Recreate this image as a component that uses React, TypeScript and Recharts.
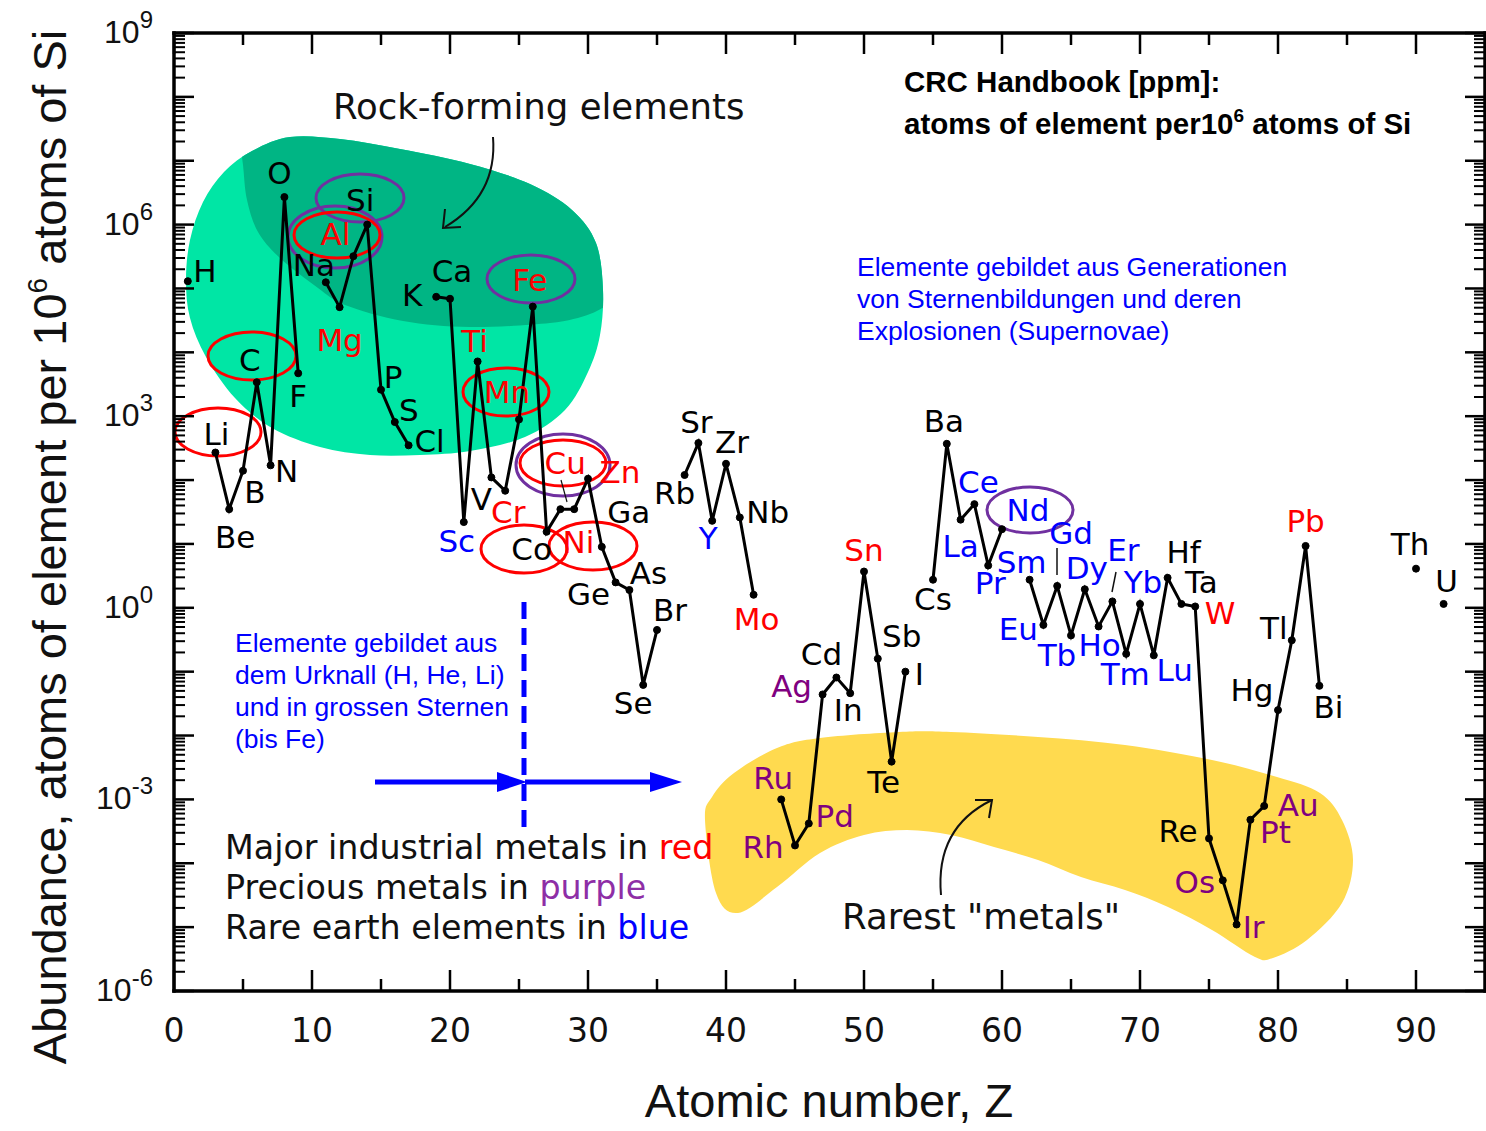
import React from 'react';
import { LineChart, Line, XAxis, YAxis, LabelList } from 'recharts';

// element symbols, Z = index + 1
const symbols = [
  'H', 'He', 'Li', 'Be', 'B', 'C', 'N', 'O', 'F', 'Ne',
  'Na', 'Mg', 'Al', 'Si', 'P', 'S', 'Cl', 'Ar', 'K', 'Ca',
  'Sc', 'Ti', 'V', 'Cr', 'Mn', 'Fe', 'Co', 'Ni', 'Cu', 'Zn',
  'Ga', 'Ge', 'As', 'Se', 'Br', 'Kr', 'Rb', 'Sr', 'Y', 'Zr',
  'Nb', 'Mo', 'Tc', 'Ru', 'Rh', 'Pd', 'Ag', 'Cd', 'In', 'Sn',
  'Sb', 'Te', 'I', 'Xe', 'Cs', 'Ba', 'La', 'Ce', 'Pr', 'Nd',
  'Pm', 'Sm', 'Eu', 'Gd', 'Tb', 'Dy', 'Ho', 'Er', 'Tm', 'Yb',
  'Lu', 'Hf', 'Ta', 'W', 'Re', 'Os', 'Ir', 'Pt', 'Au', 'Hg',
  'Tl', 'Pb', 'Bi', 'Po', 'At', 'Rn', 'Fr', 'Ra', 'Ac', 'Th',
  'Pa', 'U',
];

// atoms per 10^6 atoms of Si (null = not plotted)
const abundance: (number | null)[] = [
  1.3e5, null, 270, 35, 140, 3400, 170, 2.7e6, 4700, null,
  1.25e5, 5.1e4, 3.2e5, 1e6, 2600, 810, 350, null, 7.4e4, 6.9e4,
  22, 7200, 110, 68, 890, 5.2e4, 15.5, 35, 35, 105,
  9, 2.5, 1.9, 0.062, 0.45, null, 120, 380, 23, 180,
  26, 1.6, null, 1e-3, 1.9e-4, 4.2e-4, 0.044, 0.081, 0.046, 3.7,
  0.16, 0.0039, 0.1, null, 2.75, 370, 24, 42, 4.6, 17,
  null, 2.75, 0.54, 2.2, 0.37, 1.95, 0.51, 1.26, 0.19, 1.15,
  0.18, 2.95, 1.15, 1.05, 2.45e-4, 5.4e-5, 1.1e-5, 4.8e-4, 7.9e-4, 0.025,
  0.31, 9.3, 0.06, null, null, null, null, null, null, 4.1,
  null, 1.15,
];

const industrialMetals = ['Mg', 'Al', 'Ti', 'Cr', 'Mn', 'Fe', 'Ni', 'Cu', 'Zn', 'Mo', 'Sn', 'W', 'Pb'];
const preciousMetals = ['Ru', 'Rh', 'Pd', 'Ag', 'Os', 'Ir', 'Pt', 'Au'];
const rareEarths = ['Sc', 'Y', 'La', 'Ce', 'Pr', 'Nd', 'Sm', 'Eu', 'Gd', 'Tb', 'Dy', 'Ho', 'Er', 'Tm', 'Yb', 'Lu'];

const xTicks = [0, 5, 10, 15, 20, 25, 30, 35, 40, 45, 50, 55, 60, 65, 70, 75, 80, 85, 90];
const yTicks: number[] = [];
for (let e = -6; e < 9; e++) for (let m = 1; m <= 9; m++) yTicks.push(m * Math.pow(10, e));
yTicks.push(1e9);

const rows = symbols.map((sym, i) => ({ z: i + 1, sym, v: abundance[i] }));

// label placement relative to its point [dx, dy]
const labelOffset: Record<string, [number, number]> = {
  H: [17, -10], Li: [1, -19], Be: [6, 28], B: [12, 21], C: [-7, -22], N: [16, 6], O: [-5, -24], F: [0, 23],
  Na: [-12, -17], Mg: [0, 33], Al: [-18, -22], Si: [-7, -25], P: [12, -13], S: [14, -12], Cl: [21, -4],
  K: [-24, -2], Ca: [2, -28], Sc: [-7, 19], Ti: [-3, -20], V: [-10, 22], Cr: [3, 21], Mn: [-12, -27],
  Fe: [-3, -27], Co: [-15, 17], Ni: [18, 33], Cu: [-9, -46], Zn: [32, -7], Ga: [27, -35], Ge: [-27, 12],
  As: [19, -17], Se: [-10, 18], Br: [13, -20], Rb: [-10, 18], Sr: [-2, -21], Y: [-4, 17], Zr: [6, -22],
  Nb: [28, -5], Mo: [3, 24], Ru: [-8, -21], Rh: [-32, 2], Pd: [26, -7], Ag: [-31, -8], Cd: [-15, -24],
  In: [-2, 17], Sn: [0, -22], Sb: [24, -23], Te: [-8, 20], I: [14, 2], Cs: [0, 19], Ba: [-3, -23],
  La: [0, 26], Ce: [4, -22], Pr: [2, 18], Nd: [26, -19], Sm: [-8, -18], Eu: [-25, 4], Gd: [14, -53],
  Tb: [-14, 20], Dy: [2, -21], Ho: [1, 19], Er: [11, -51], Tm: [-1, 20], Yb: [3, -22], Lu: [21, 15],
  Hf: [16, -26], Ta: [20, -22], W: [25, 7], Re: [-31, -7], Os: [-28, 2], Ir: [17, 3], Pt: [25, 12],
  Au: [34, -1], Hg: [-26, -20], Tl: [-18, -12], Pb: [0, -25], Bi: [9, 21], Th: [-6, -25], U: [3, -23],
};

const RED = '#ff0000';
const PURPLE = '#800080';
const BLUE = '#0000ff';
const ELLIPSE_PURPLE = '#7030a0';

const labelColor = (s: string) => {
  if (industrialMetals.includes(s)) return RED;
  if (preciousMetals.includes(s)) return PURPLE;
  if (rareEarths.includes(s)) return BLUE;
  return '#000';
};

type Pt = [number, number];

const closedPath = (pts: Pt[]) => {
  const n = pts.length;
  let d = `M${pts[0][0]},${pts[0][1]}`;
  for (let i = 0; i < n; i++) {
    const p0 = pts[(i - 1 + n) % n], p1 = pts[i], p2 = pts[(i + 1) % n], p3 = pts[(i + 2) % n];
    d += ` C${p1[0] + (p2[0] - p0[0]) / 6},${p1[1] + (p2[1] - p0[1]) / 6} ${p2[0] - (p3[0] - p1[0]) / 6},${p2[1] - (p3[1] - p1[1]) / 6} ${p2[0]},${p2[1]}`;
  }
  return d + ' Z';
};

const openPath = (pts: Pt[]) => {
  const n = pts.length;
  let d = `M${pts[0][0]},${pts[0][1]}`;
  for (let i = 0; i < n - 1; i++) {
    const p0 = pts[Math.max(i - 1, 0)], p1 = pts[i], p2 = pts[i + 1], p3 = pts[Math.min(i + 2, n - 1)];
    d += ` C${p1[0] + (p2[0] - p0[0]) / 6},${p1[1] + (p2[1] - p0[1]) / 6} ${p2[0] - (p3[0] - p1[0]) / 6},${p2[1] - (p3[1] - p1[1]) / 6} ${p2[0]},${p2[1]}`;
  }
  return d;
};

// annotation outlines (pixels)
const rockBlob: Pt[] = [
  [252, 151], [290, 137], [340, 139], [400, 149], [470, 164], [530, 184], [572, 210], [596, 243],
  [603, 290], [600, 335], [588, 372], [565, 410], [525, 437], [470, 451], [420, 455], [370, 455],
  [320, 447], [272, 428], [235, 398], [206, 357], [190, 318], [186, 280], [190, 240], [203, 202], [224, 172],
];
const darkEdge: Pt[] = [
  [240, 140], [243, 165], [247, 200], [258, 232], [280, 258], [318, 288], [345, 305], [403, 321],
  [470, 327], [550, 323], [590, 314], [615, 300],
];
const rareBlob: Pt[] = [
  [712, 797], [734, 773], [777, 748], [820, 738], [899, 732], [951, 732], [1038, 737], [1125, 745],
  [1212, 760], [1277, 777], [1320, 793], [1342, 820], [1353, 860], [1342, 903], [1307, 940], [1273, 958],
  [1255, 957], [1212, 930], [1168, 907], [1125, 890], [1081, 877], [1038, 860], [994, 847], [951, 835],
  [907, 830], [864, 835], [820, 853], [777, 887], [738, 913], [716, 893], [705, 820],
];

const ellipses: { cx: number; cy: number; rx: number; ry: number; c: string }[] = [
  { cx: 360, cy: 198, rx: 44, ry: 24, c: ELLIPSE_PURPLE },
  { cx: 335, cy: 237, rx: 47, ry: 31, c: ELLIPSE_PURPLE },
  { cx: 531, cy: 279, rx: 44, ry: 24, c: ELLIPSE_PURPLE },
  { cx: 563, cy: 465, rx: 47, ry: 31, c: ELLIPSE_PURPLE },
  { cx: 1030, cy: 510, rx: 43, ry: 23, c: ELLIPSE_PURPLE },
  { cx: 218, cy: 432, rx: 43, ry: 24, c: RED },
  { cx: 252, cy: 356, rx: 44, ry: 24, c: RED },
  { cx: 337, cy: 235, rx: 43, ry: 23, c: RED },
  { cx: 506, cy: 392, rx: 43, ry: 24, c: RED },
  { cx: 563, cy: 463, rx: 43, ry: 23, c: RED },
  { cx: 524, cy: 549, rx: 43, ry: 24, c: RED },
  { cx: 593, cy: 546, rx: 44, ry: 24, c: RED },
];

const SANS = 'Liberation Sans, Arial, sans-serif';
const DEJAVU = 'DejaVu Sans, sans-serif';

const XTick = ({ x, y, payload, side }: any) => {
  const v = payload.value;
  const major = v % 10 === 0;
  const dir = side === 'top' ? 1 : -1;
  return (
    <g>
      <line x1={x} y1={y} x2={x} y2={y + dir * (major ? 21 : 12)} stroke="#000" strokeWidth={2.5} />
      {side !== 'top' && major && (
        <text x={x} y={y + 51} textAnchor="middle" fontFamily={DEJAVU} fontSize={33} fill="#111">{v}</text>
      )}
    </g>
  );
};

const YTick = ({ x, y, payload, side }: any) => {
  const lg = Math.log10(payload.value);
  const e = Math.round(lg);
  const major = Math.abs(lg - e) < 1e-6;
  const dir = side === 'right' ? -1 : 1;
  return (
    <g>
      <line x1={x} y1={y} x2={x + dir * (major ? 20 : 11)} y2={y} stroke="#000" strokeWidth={major ? 2.5 : 2} />
      {side !== 'right' && major && e % 3 === 0 && (
        <text x={153} y={y + 10} textAnchor="end" fontFamily={SANS} fontSize={32} fill="#111">
          10<tspan dy={-15} fontSize={24}>{e}</tspan>
        </text>
      )}
    </g>
  );
};

const ElementLabel = (props: any) => {
  const vb = props.viewBox || {};
  const x = vb.x ?? props.x;
  const y = vb.y ?? props.y;
  const sym = props.value;
  if (typeof x !== 'number' || typeof y !== 'number' || isNaN(y) || !sym) return null;
  const off = labelOffset[sym] || [0, -20];
  return (
    <text x={x + off[0]} y={y + off[1]} textAnchor="middle" dominantBaseline="central"
      fontFamily={DEJAVU} fontSize={31} fill={labelColor(sym)}>{sym}</text>
  );
};

const axisLine = { stroke: '#000', strokeWidth: 3.5, strokeLinecap: 'square' as const };

export default function App() {
  return (
    <div style={{ position: 'absolute', left: 0, top: 0, width: 1486, height: 1131, background: '#fff' }}>
      <svg width={1486} height={1131} style={{ position: 'absolute', left: 0, top: 0 }}>
        <defs>
          <clipPath id="darkClip">
            <path d={openPath(darkEdge) + ' L640,300 L640,100 L240,100 Z'} />
          </clipPath>
        </defs>
        <path d={closedPath(rockBlob)} fill="#00e6a5" />
        <path d={closedPath(rockBlob)} fill="#00b584" clipPath="url(#darkClip)" />
        <path d={closedPath(rareBlob)} fill="#ffda4f" />

        {ellipses.map((el, i) => (
          <ellipse key={i} cx={el.cx} cy={el.cy} rx={el.rx} ry={el.ry} fill="none" stroke={el.c} strokeWidth={3} />
        ))}

        <text x={333} y={119} fontFamily={DEJAVU} fontSize={35.5} fill="#111">Rock-forming elements</text>
        <path d="M493,137 C496,175 482,205 445,227" fill="none" stroke="#111" strokeWidth={2} />
        <path d="M445,209 L443,228 L461,227" fill="none" stroke="#111" strokeWidth={2} />

        <text x={842} y={929} fontFamily={DEJAVU} fontSize={35.5} fill="#111">Rarest "metals"</text>
        <path d="M941,895 C937,850 955,818 992,800" fill="none" stroke="#111" strokeWidth={2} />
        <path d="M975,800 L992,800 L989,818" fill="none" stroke="#111" strokeWidth={2} />

        {/* leader ticks */}
        <line x1={1057} y1={548} x2={1057} y2={575} stroke="#111" strokeWidth={1.5} />
        <line x1={1116} y1={572} x2={1112} y2={592} stroke="#111" strokeWidth={1.5} />
        <line x1={561} y1={480} x2={567} y2={502} stroke="#111" strokeWidth={1.2} />

        <text fontFamily={SANS} fontSize={29.5} fontWeight="bold" fill="#000">
          <tspan x={904} y={92}>CRC Handbook [ppm]:</tspan>
          <tspan x={904} y={134}>atoms of element per10</tspan>
          <tspan dy={-12} fontSize={19}>6</tspan>
          <tspan dy={12}> atoms of Si</tspan>
        </text>

        <text fontFamily={SANS} fontSize={26.5} fill={BLUE}>
          <tspan x={857} y={276}>Elemente gebildet aus Generationen</tspan>
          <tspan x={857} y={308}>von Sternenbildungen und deren</tspan>
          <tspan x={857} y={340}>Explosionen (Supernovae)</tspan>
        </text>
        <text fontFamily={SANS} fontSize={26.5} fill={BLUE}>
          <tspan x={235} y={652}>Elemente gebildet aus</tspan>
          <tspan x={235} y={684}>dem Urknall (H, He, Li)</tspan>
          <tspan x={235} y={716}>und in grossen Sternen</tspan>
          <tspan x={235} y={748}>(bis Fe)</tspan>
        </text>

        <line x1={524} y1={602} x2={524} y2={835} stroke={BLUE} strokeWidth={5} strokeDasharray="17 9" />
        <line x1={375} y1={782} x2={500} y2={782} stroke={BLUE} strokeWidth={5} />
        <polygon points="497,772 527,782 497,792" fill={BLUE} />
        <line x1={525} y1={782} x2={655} y2={782} stroke={BLUE} strokeWidth={5} />
        <polygon points="650,772 682,782 650,792" fill={BLUE} />

        <text fontFamily={DEJAVU} fontSize={33.3} fill="#111">
          <tspan x={225} y={859}>Major industrial metals in <tspan fill={RED}>red</tspan></tspan>
        </text>
        <text fontFamily={DEJAVU} fontSize={33.3} fill="#111">
          <tspan x={225} y={899}>Precious metals in <tspan fill="#8e2ea6">purple</tspan></tspan>
        </text>
        <text fontFamily={DEJAVU} fontSize={33.3} fill="#111">
          <tspan x={225} y={939}>Rare earth elements in <tspan fill={BLUE}>blue</tspan></tspan>
        </text>

        <text x={829} y={1117} textAnchor="middle" fontFamily={SANS} fontSize={47} fill="#111">Atomic number, Z</text>
        <text transform="translate(66,547) rotate(-90)" textAnchor="middle" fontFamily={SANS} fontSize={47} fill="#111">
          Abundance, atoms of element per 10<tspan dy={-19} fontSize={28}>6</tspan><tspan dy={19}> atoms of Si</tspan>
        </text>
      </svg>

      <div style={{ position: 'absolute', left: 0, top: 0 }}>
        <LineChart width={1486} height={1131} data={rows} margin={{ top: 32, right: 0, bottom: 139, left: 173 }}>
          <XAxis xAxisId="b" type="number" dataKey="z" domain={[0, 95]} ticks={xTicks} interval={0}
            allowDataOverflow height={1} tickSize={0} tickMargin={0} tickLine={false} axisLine={axisLine}
            tick={(p: any) => <XTick {...p} side="bottom" />} />
          <XAxis xAxisId="t" orientation="top" type="number" dataKey="z" domain={[0, 95]} ticks={xTicks} interval={0}
            allowDataOverflow height={1} tickSize={0} tickMargin={0} tickLine={false} axisLine={axisLine}
            tick={(p: any) => <XTick {...p} side="top" />} />
          <YAxis yAxisId="l" type="number" scale="log" domain={[1e-6, 1e9]} ticks={yTicks} interval={0}
            allowDataOverflow width={1} tickSize={0} tickMargin={0} tickLine={false} axisLine={axisLine}
            tick={(p: any) => <YTick {...p} side="left" />} />
          <YAxis yAxisId="r" orientation="right" type="number" scale="log" domain={[1e-6, 1e9]} ticks={yTicks} interval={0}
            allowDataOverflow width={1} tickSize={0} tickMargin={0} tickLine={false} axisLine={axisLine}
            tick={(p: any) => <YTick {...p} side="right" />} />
          <Line xAxisId="b" yAxisId="l" type="linear" dataKey="v" stroke="#000" strokeWidth={3}
            dot={{ r: 3.5, fill: '#000', stroke: '#000', strokeWidth: 1 }} activeDot={false}
            connectNulls={false} isAnimationActive={false}>
            <LabelList dataKey="sym" content={(p: any) => <ElementLabel {...p} />} />
          </Line>
        </LineChart>
      </div>
    </div>
  );
}
